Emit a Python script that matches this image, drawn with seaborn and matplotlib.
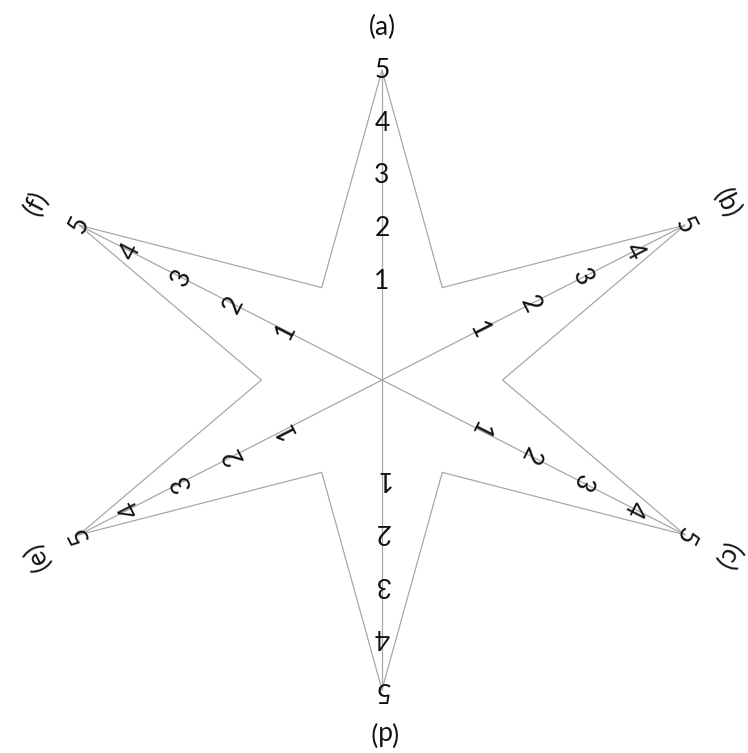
import numpy as np
import pandas as pd
import matplotlib
matplotlib.use('Agg')
import matplotlib.pyplot as plt
import seaborn as sns

# axes of the star chart
axis_names = ['(a)', '(b)', '(c)', '(d)', '(e)', '(f)']
axis_angles = [90, 30, -30, -90, -150, 150]
tick_values = [1, 2, 3, 4, 5]
tip_value = 5
inner_value = 1.15

# radius = offset + step*value, plus the screen stretch of the picture
offset, step = 0.83, 0.95
label_radius = 6.35
px_x, px_y = 62.7, 55.5


def radius(v):
    return offset + step * v


sns.set_style('white')
plt.rcParams['font.family'] = ['Lato', 'DejaVu Sans']

fig = plt.figure(figsize=(7.48, 7.53), dpi=100)
ax = fig.add_axes([0, 0, 1, 1])

# star outline: tip on each axis, inner point between axes
rows = []
for i, ang in enumerate(axis_angles + [axis_angles[0]]):
    t = np.deg2rad(ang)
    rows.append({'x': radius(tip_value) * np.cos(t), 'y': radius(tip_value) * np.sin(t), 'order': 2 * i})
    if i < len(axis_angles):
        t2 = np.deg2rad(ang - 30)
        rows.append({'x': radius(inner_value) * np.cos(t2), 'y': radius(inner_value) * np.sin(t2), 'order': 2 * i + 1})
star = pd.DataFrame(rows)
sns.lineplot(data=star, x='x', y='y', sort=False, estimator=None, color='#a8a8a8', linewidth=0.9, ax=ax)

# spokes from the centre to every tip
spokes = []
for name, ang in zip(axis_names, axis_angles):
    t = np.deg2rad(ang)
    spokes.append({'axis': name, 'x': 0, 'y': 0})
    spokes.append({'axis': name, 'x': radius(tip_value) * np.cos(t), 'y': radius(tip_value) * np.sin(t)})
spokes = pd.DataFrame(spokes)
sns.lineplot(data=spokes, x='x', y='y', units='axis', sort=False, estimator=None,
             color='#a8a8a8', linewidth=0.9, ax=ax)

# tick numbers and axis names, turned to face outward
for name, ang in zip(axis_names, axis_angles):
    t = np.deg2rad(ang)
    screen = np.degrees(np.arctan2(px_y * np.sin(t), px_x * np.cos(t)))
    rot = screen - 90
    for v in tick_values:
        ax.text(radius(v) * np.cos(t), radius(v) * np.sin(t), str(v), fontsize=19,
                rotation=rot, rotation_mode='anchor', ha='center', va='center', color='#111111')
    ax.text(label_radius * np.cos(t), label_radius * np.sin(t), name, fontsize=19,
            rotation=rot, rotation_mode='anchor', ha='center', va='center', color='#111111')

ax.set_xlim(-382 / px_x, 366 / px_x)
ax.set_ylim(-373 / px_y, 380 / px_y)
ax.axis('off')

plt.savefig('out.png', dpi=100)
